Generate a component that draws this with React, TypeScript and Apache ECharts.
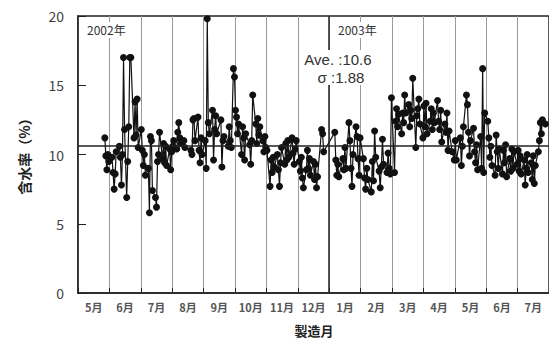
import React, { useEffect, useRef } from "react";
import * as echarts from "echarts";

// Month labels on the x axis (May 2002 – Jul 2003)
const monthLabels = ["5月", "6月", "7月", "8月", "9月", "10月", "11月", "12月", "1月", "2月", "3月", "4月", "5月", "6月", "7月"];
const daysInMonth = [31, 30, 31, 31, 30, 31, 30, 31, 31, 28, 31, 30, 31, 30, 31];

// [day of month, moisture %]
const may02 = [[27, 11.2], [28, 9.9], [29, 8.9], [30, 10.0], [31, 9.5]];
const jun02 = [[3, 9.8], [4, 8.7], [5, 7.5], [6, 8.6], [7, 10.2], [10, 10.6], [11, 9.8], [12, 7.8], [13, 10.0], [14, 17.0], [15, 11.8], [17, 6.9], [18, 9.5], [19, 12.0], [20, 17.0], [21, 17.0], [24, 11.2], [25, 13.8], [26, 11.4], [27, 14.0], [28, 10.5]];
const jul02 = [[1, 11.8], [2, 10.3], [3, 9.2], [4, 10.0], [5, 8.5], [8, 9.0], [9, 5.8], [10, 11.3], [11, 11.0], [12, 7.4], [15, 6.9], [16, 6.2], [17, 9.5], [18, 10.0], [19, 11.6], [22, 9.7], [23, 10.8], [24, 9.4], [25, 10.6], [26, 9.2], [29, 10.4], [30, 8.9], [31, 10.2]];
const aug02 = [[1, 10.6], [2, 11.0], [5, 10.4], [6, 11.6], [7, 12.3], [8, 11.2], [9, 10.8], [12, 11.0], [13, 10.5], [19, 10.3], [20, 10.0], [21, 12.5], [22, 12.6], [23, 11.0], [26, 12.7], [27, 10.3], [28, 9.4], [29, 11.2], [30, 10.0]];
const sep02 = [[2, 11.0], [3, 9.0], [4, 19.8], [5, 12.3], [6, 11.5], [9, 13.2], [10, 9.6], [11, 11.8], [12, 12.8], [13, 11.5], [17, 12.5], [18, 9.1], [19, 11.0], [20, 11.3], [24, 10.6], [25, 12.0], [26, 11.0], [27, 10.5], [29, 16.2], [30, 15.6]];
const oct02 = [[1, 13.2], [2, 12.7], [3, 11.5], [4, 12.2], [7, 10.0], [8, 12.0], [9, 11.2], [10, 9.6], [11, 11.5], [15, 10.7], [16, 9.3], [17, 11.0], [18, 14.3], [21, 12.2], [22, 10.8], [23, 12.6], [24, 11.4], [25, 12.0], [28, 11.0], [29, 10.2], [30, 11.3], [31, 10.5]];
const nov02 = [[1, 10.3], [4, 7.7], [5, 9.6], [6, 8.7], [7, 9.8], [8, 9.1], [11, 10.0], [12, 8.9], [13, 7.7], [14, 9.4], [15, 10.5], [18, 9.3], [19, 10.8], [20, 9.6], [21, 11.0], [22, 9.8], [25, 11.2], [26, 10.1], [27, 9.3], [28, 10.4], [29, 11.0]];
const dec02 = [[2, 9.5], [3, 8.8], [4, 9.8], [5, 8.3], [6, 7.6], [9, 8.9], [10, 10.3], [11, 9.0], [12, 9.7], [13, 8.5], [16, 9.5], [17, 8.2], [18, 9.3], [19, 7.6], [20, 8.4], [24, 11.8], [25, 11.5], [26, 10.2]];
const jan03 = [[6, 11.6], [7, 9.6], [8, 8.5], [9, 9.3], [10, 8.4], [14, 9.7], [15, 8.9], [16, 10.5], [17, 9.0], [20, 12.3], [21, 11.0], [22, 9.0], [23, 7.7], [24, 10.0], [27, 12.0], [28, 11.3], [29, 9.7], [30, 8.5], [31, 11.2]];
const feb03 = [[3, 9.7], [4, 8.3], [5, 7.5], [6, 9.0], [7, 8.2], [10, 7.3], [11, 9.5], [12, 8.1], [13, 11.7], [14, 9.8], [17, 8.8], [18, 7.6], [19, 9.1], [20, 11.1], [21, 9.3], [24, 8.7], [25, 10.1], [26, 9.0], [27, 8.6], [28, 14.1]];
const mar03 = [[3, 8.7], [4, 12.4], [5, 13.3], [6, 12.0], [7, 12.9], [10, 11.5], [11, 13.0], [12, 12.3], [13, 14.3], [14, 13.0], [17, 13.6], [18, 12.0], [19, 13.2], [20, 12.6], [21, 15.5], [24, 10.5], [25, 12.8], [26, 13.3], [27, 14.0], [28, 12.2], [31, 11.2]];
const apr03 = [[1, 13.5], [2, 12.0], [3, 13.7], [4, 11.5], [7, 12.4], [8, 13.3], [9, 11.8], [10, 13.0], [11, 12.3], [14, 13.9], [15, 12.4], [16, 11.8], [17, 13.2], [18, 10.9], [21, 12.2], [22, 11.6], [23, 13.0], [24, 10.3], [25, 11.7], [28, 10.2], [30, 9.6]];
const may03 = [[1, 11.0], [2, 9.6], [6, 11.2], [7, 9.2], [8, 10.6], [9, 12.0], [12, 14.3], [13, 13.6], [14, 11.6], [15, 9.9], [16, 11.0], [19, 11.9], [20, 10.2], [21, 9.4], [22, 10.7], [23, 8.9], [26, 11.3], [27, 9.0], [28, 16.2], [29, 8.7], [30, 13.0]];
const jun03 = [[2, 12.4], [3, 11.2], [4, 9.8], [5, 10.6], [6, 9.2], [9, 8.5], [10, 11.4], [11, 10.2], [12, 9.0], [13, 10.4], [16, 8.6], [17, 10.3], [18, 9.4], [19, 10.7], [20, 8.4], [23, 9.7], [24, 8.8], [25, 10.4], [26, 9.0], [27, 10.2], [30, 9.3]];
const jul03 = [[1, 10.3], [2, 8.8], [3, 9.9], [4, 8.6], [7, 9.6], [8, 7.8], [9, 9.0], [10, 10.0], [11, 8.7], [14, 9.4], [15, 8.2], [16, 9.9], [17, 7.9], [18, 9.2], [21, 10.2], [22, 11.0], [23, 12.3], [24, 11.5], [25, 12.5], [28, 12.2]];

const monthlyData = [may02, jun02, jul02, aug02, sep02, oct02, nov02, dec02, jan03, feb03, mar03, apr03, may03, jun03, jul03];

const average = 10.6;
const sigma = 1.88;
const yearBoundary = 8; // 1 Jan 2003, in month units from 1 May 2002
const yTicks = [0, 5, 10, 15, 20];

const FONT = "'Noto Sans CJK JP', 'Noto Sans', sans-serif";
const LATIN = "'Liberation Sans', Arial, sans-serif";

export default function App() {
  const ref = useRef<HTMLDivElement>(null);

  useEffect(() => {
    if (!ref.current) return;
    const chart = echarts.init(ref.current, null, { renderer: "svg" });

    const points: number[][] = [];
    monthlyData.forEach((arr, mi) => {
      arr.forEach(([d, v]) => {
        points.push([mi + (d - 0.5) / daysInMonth[mi], v]);
      });
    });

    chart.setOption({
      animation: false,
      backgroundColor: "#fff",
      grid: {
        left: 78,
        top: 16,
        width: 473,
        height: 277,
        show: true,
        borderColor: "#222",
        borderWidth: 1.5,
        backgroundColor: "transparent",
      },
      xAxis: [
        {
          type: "category",
          data: monthLabels.map((_, i) => String(i)),
          boundaryGap: true,
          axisLine: { show: true, lineStyle: { color: "#222", width: 1.5 } },
          axisTick: { show: true, inside: true, length: 5, lineStyle: { color: "#222" } },
          axisLabel: {
            formatter: (v: string) => monthLabels[Number(v)],
            fontSize: 11,
            fontWeight: "bold",
            color: "#555",
            margin: 8,
            fontFamily: FONT,
            interval: 0,
          },
          splitLine: { show: true, interval: 0, lineStyle: { color: "#9a9a9a", width: 1 } },
        },
        {
          type: "value",
          min: 0,
          max: 15,
          show: false,
          splitLine: { show: false },
        },
      ],
      yAxis: {
        type: "value",
        min: yTicks[0],
        max: yTicks[yTicks.length - 1],
        interval: 5,
        axisLine: { show: true, lineStyle: { color: "#222", width: 1.5 } },
        axisTick: { show: true, inside: true, length: 8, lineStyle: { color: "#222" } },
        axisLabel: { fontSize: 14, color: "#444", margin: 14, fontFamily: FONT },
        splitLine: { show: false },
      },
      series: [
        {
          type: "line",
          xAxisIndex: 1,
          data: points,
          symbol: "circle",
          symbolSize: 7,
          showSymbol: true,
          lineStyle: { color: "#111", width: 1.2 },
          itemStyle: { color: "#111" },
          markLine: {
            silent: true,
            symbol: "none",
            label: { show: false },
            data: [
              { yAxis: average, lineStyle: { color: "#222", width: 1.5, type: "solid" } },
              { xAxis: yearBoundary, lineStyle: { color: "#222", width: 1.5, type: "solid" } },
            ],
          },
        },
      ],
      graphic: [
        {
          type: "text",
          z: 100,
          x: 86,
          y: 22,
          style: {
            text: "2002年",
            fontSize: 12,
            fontFamily: FONT,
            fill: "#333",
            backgroundColor: "#fff",
            padding: [1, 1, 3, 1],
          },
        },
        {
          type: "text",
          z: 100,
          x: 337,
          y: 22,
          style: {
            text: "2003年",
            fontSize: 12,
            fontFamily: FONT,
            fill: "#333",
            backgroundColor: "#fff",
            padding: [1, 1, 3, 1],
          },
        },
        {
          type: "rect",
          z: 99,
          shape: { x: 300, y: 50, width: 78, height: 35 },
          style: { fill: "#fff" },
        },
        {
          type: "text",
          z: 100,
          x: 338,
          y: 59,
          style: {
            text: `Ave. :${average.toFixed(1)}`,
            fontSize: 15,
            lineHeight: 15,
            fontFamily: LATIN,
            fill: "#333",
            align: "center",
            verticalAlign: "middle",
          },
        },
        {
          type: "text",
          z: 100,
          x: 341,
          y: 77,
          style: {
            text: `σ :${sigma.toFixed(2)}`,
            fontSize: 15,
            lineHeight: 15,
            fontFamily: LATIN,
            fill: "#333",
            align: "center",
            verticalAlign: "middle",
          },
        },
        {
          type: "text",
          z: 100,
          x: 24,
          y: 153,
          rotation: Math.PI / 2,
          style: {
            text: "含水率（%）",
            fontSize: 14,
            fontWeight: "bold",
            fontFamily: FONT,
            fill: "#222",
            align: "center",
            verticalAlign: "middle",
          },
        },
        {
          type: "text",
          z: 100,
          x: 314,
          y: 330,
          style: {
            text: "製造月",
            fontSize: 13,
            fontWeight: "bold",
            fontFamily: FONT,
            fill: "#222",
            align: "center",
            verticalAlign: "middle",
          },
        },
      ],
    });

    return () => chart.dispose();
  }, []);

  return (
    <div
      ref={ref}
      style={{ position: "fixed", left: 0, top: 0, width: 549, height: 341, background: "#fff" }}
    />
  );
}
